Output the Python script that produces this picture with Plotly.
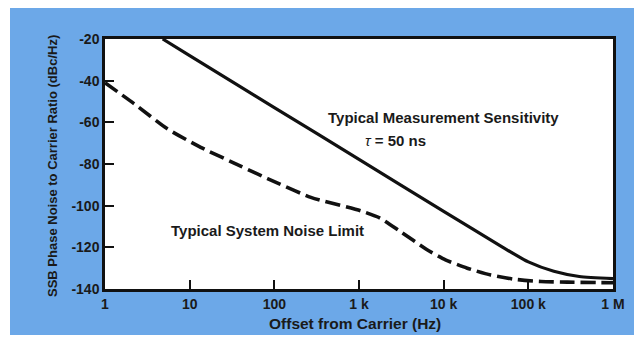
import plotly.graph_objects as go

# ---- data ----
sens_f = [4.8, 10, 100, 1000, 10000, 50000, 100000, 200000, 400000, 1000000]
sens_db = [-20, -28, -52.9, -77.8, -102.7, -120, -127, -131.5, -134, -135]

noise_f = [1, 2.2, 5.4, 13.5, 40, 83, 270, 1050, 1780, 3100, 6300, 10500, 19000,
           36000, 68000, 141000, 290000, 1000000]
noise_db = [-41, -51, -63, -72, -81, -87, -96, -102.5, -106, -112.5, -121, -126,
            -130, -133.3, -135.3, -136.4, -136.7, -137]

x_tickvals = [1, 10, 100, 1000, 10000, 100000, 1000000]
x_ticktext = ["1", "10", "100", "1 k", "10 k", "100 k", "1 M"]
y_tickvals = [-140, -120, -100, -80, -60, -40, -20]
y_ticktext = ["-140", "-120", "-100", "-80", "-60", "-40", "-20"]

BLUE = "#6ca8e8"
INK = "#1a1a1a"
FONT = "Liberation Sans"

fig = go.Figure()
fig.add_trace(go.Scatter(x=sens_f, y=sens_db, mode="lines",
                         line=dict(color="#111111", width=3.2, shape="spline", smoothing=0.6),
                         showlegend=False, hoverinfo="skip"))
fig.add_trace(go.Scatter(x=noise_f, y=noise_db, mode="lines",
                         line=dict(color="#111111", width=3.6, dash="15px,6px",
                                   shape="spline", smoothing=0.6),
                         showlegend=False, hoverinfo="skip"))

# page body has an 8px margin, so the figure is offset by (8, 8)
OFF = 8
W, H = 642 - OFF, 339 - OFF
L, R, T, B = 105 - OFF, 29, 39 - OFF, 50
pw, ph = W - L - R, H - T - B

def px2paper_x(px):
    return (px - OFF - L) / pw

def px2paper_y(py):
    return (H - B - (py - OFF)) / ph

shapes = [
    dict(type="rect", xref="paper", yref="paper", layer="below",
         x0=px2paper_x(10), x1=px2paper_x(645), y0=px2paper_y(335), y1=px2paper_y(8),
         fillcolor=BLUE, line=dict(width=0)),
    dict(type="rect", xref="paper", yref="paper", layer="below",
         x0=0, x1=1, y0=0, y1=1, fillcolor="white", line=dict(width=0)),
]

annotations = [
    dict(text="<b>Typical Measurement Sensitivity</b>", x=px2paper_x(443), y=px2paper_y(118),
         xref="paper", yref="paper", showarrow=False, xanchor="center", yanchor="middle",
         font=dict(family=FONT, size=15, color=INK)),
    dict(text="<i>τ</i> <b>= 50 ns</b>", x=px2paper_x(395), y=px2paper_y(140),
         xref="paper", yref="paper", showarrow=False, xanchor="center", yanchor="middle",
         font=dict(family=FONT, size=15, color=INK)),
    dict(text="<b>Typical System Noise Limit</b>", x=px2paper_x(267), y=px2paper_y(230),
         xref="paper", yref="paper", showarrow=False, xanchor="center", yanchor="middle",
         font=dict(family=FONT, size=15, color=INK)),
    dict(text="<b>SSB Phase Noise to Carrier Ratio (dBc/Hz)</b>", x=px2paper_x(52),
         y=px2paper_y(166), xref="paper", yref="paper", showarrow=False, textangle=-90,
         xanchor="center", yanchor="middle", font=dict(family=FONT, size=13, color=INK)),
    dict(text="<b>Offset from Carrier (Hz)</b>", x=px2paper_x(355), y=px2paper_y(323),
         xref="paper", yref="paper", showarrow=False, xanchor="center", yanchor="middle",
         font=dict(family=FONT, size=15.5, color=INK)),
]

fig.update_layout(
    width=W, height=H,
    margin=dict(l=L, r=R, t=T, b=B, pad=0),
    paper_bgcolor="white", plot_bgcolor="white",
    shapes=shapes, annotations=annotations,
    font=dict(family=FONT, color=INK),
)
fig.update_xaxes(type="log", range=[0, 6], tickvals=x_tickvals, ticktext=x_ticktext,
                 ticks="inside", ticklen=9, tickwidth=2, tickcolor="#111",
                 showline=True, linecolor="#111", linewidth=2.5, mirror=True,
                 showgrid=False, zeroline=False,
                 tickfont=dict(family=FONT, size=14, color=INK, weight="bold"))
fig.update_yaxes(range=[-140, -20], tickvals=y_tickvals, ticktext=y_ticktext,
                 ticks="inside", ticklen=9, tickwidth=2, tickcolor="#111",
                 showline=True, linecolor="#111", linewidth=2.5, mirror=True,
                 showgrid=False, zeroline=False,
                 tickfont=dict(family=FONT, size=14, color=INK, weight="bold"))

fig.write_html("out.html")
